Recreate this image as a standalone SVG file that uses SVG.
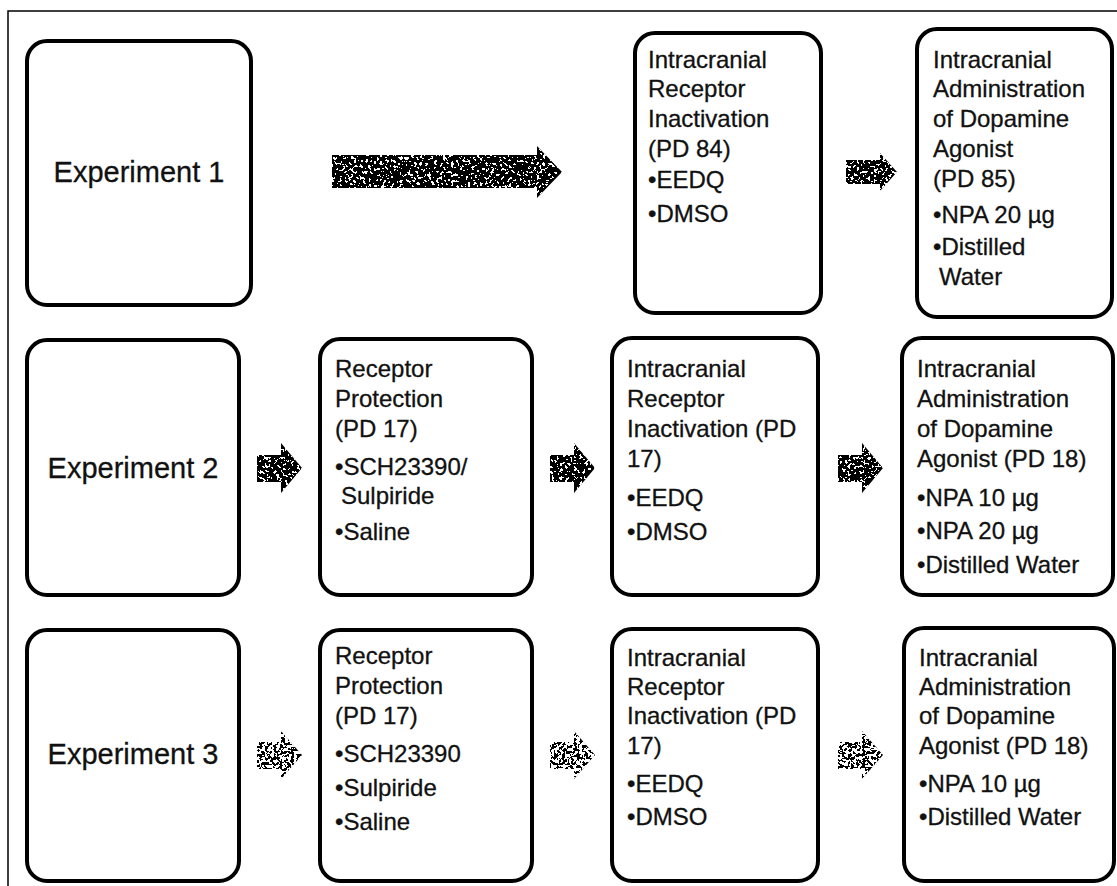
<svg xmlns="http://www.w3.org/2000/svg" width="1117" height="886" viewBox="0 0 1117 886">
<style>
.box{fill:#fff;stroke:#000;stroke-width:4}
.t{font-family:"Liberation Sans",Arial,sans-serif;font-size:24px;fill:#111;stroke:#111;stroke-width:0.3}
.exp{font-family:"Liberation Sans",Arial,sans-serif;font-size:29px;fill:#111;stroke:#111;stroke-width:0.3;text-anchor:middle}
.frame{stroke:#000;stroke-width:1.5;fill:none}
.arr{fill:#000}
</style>
<defs>
<filter id="speckDark" x="0" y="0" width="1" height="1">
<feTurbulence type="fractalNoise" baseFrequency="0.35" numOctaves="2" seed="7" result="n"/>
<feColorMatrix in="n" type="matrix" values="0 0 0 0 1  0 0 0 0 1  0 0 0 0 1  1 0 0 0 0" result="a"/>
<feComponentTransfer in="a" result="w"><feFuncA type="discrete" tableValues="0 0 0 1 1"/></feComponentTransfer>
<feComposite in="w" in2="SourceAlpha" operator="in" result="wc"/>
<feMerge><feMergeNode in="SourceGraphic"/><feMergeNode in="wc"/></feMerge>
</filter>
<filter id="speckLight" x="0" y="0" width="1" height="1">
<feTurbulence type="fractalNoise" baseFrequency="0.35" numOctaves="2" seed="11" result="n"/>
<feColorMatrix in="n" type="matrix" values="0 0 0 0 1  0 0 0 0 1  0 0 0 0 1  1 0 0 0 0" result="a"/>
<feComponentTransfer in="a" result="w"><feFuncA type="discrete" tableValues="0 0 1 1"/></feComponentTransfer>
<feComposite in="w" in2="SourceAlpha" operator="in" result="wc"/>
<feMerge><feMergeNode in="SourceGraphic"/><feMergeNode in="wc"/></feMerge>
</filter>
</defs>
<rect width="1117" height="886" fill="#fff"/>
<path class="frame" d="M8 886 V11 H1117"/>

<g id="connectors">
<path class="arr" filter="url(#speckDark)" d="M332 155 H537 V146 L562 172 L537 198 V188 H332 Z"/>
<path class="arr" filter="url(#speckDark)" d="M846 160 H880 V153 L897 172 L880 191 V184 H846 Z"/>
<path class="arr" filter="url(#speckDark)" d="M257 455 H281 V443 L302 468 L281 493 V482 H257 Z"/>
<path class="arr" filter="url(#speckDark)" d="M550 455 H574 V443 L595 468 L574 493 V482 H550 Z"/>
<path class="arr" filter="url(#speckDark)" d="M838 455 H862 V443 L883 468 L862 493 V482 H838 Z"/>
<path class="arr" filter="url(#speckLight)" d="M257 742 H281 V731 L302 755 L281 779 V769 H257 Z"/>
<path class="arr" filter="url(#speckLight)" d="M550 742 H574 V731 L595 755 L574 779 V769 H550 Z"/>
<path class="arr" filter="url(#speckLight)" d="M838 742 H862 V731 L883 755 L862 779 V769 H838 Z"/>
</g>

<g id="exp1"><rect class="box" x="27" y="41" width="224" height="264" rx="20"/>
<text class="exp" x="139" y="182">Experiment 1</text></g>
<g id="exp1-inactivation"><rect class="box" x="635" y="33" width="186" height="280" rx="20"/>
<text class="t" x="648" y="68">Intracranial</text>
<text class="t" x="648" y="97">Receptor</text>
<text class="t" x="648" y="127">Inactivation</text>
<text class="t" x="648" y="157">(PD 84)</text>
<text class="t" x="648" y="188">•EEDQ</text>
<text class="t" x="648" y="222">•DMSO</text></g>
<g id="exp1-agonist"><rect class="box" x="917" y="29" width="195" height="288" rx="20"/>
<text class="t" x="933" y="68">Intracranial</text>
<text class="t" x="933" y="97">Administration</text>
<text class="t" x="933" y="127">of Dopamine</text>
<text class="t" x="933" y="157">Agonist</text>
<text class="t" x="933" y="187">(PD 85)</text>
<text class="t" x="933" y="223">•NPA 20 µg</text>
<text class="t" x="933" y="255">•Distilled</text>
<text class="t" x="939" y="285">Water</text></g>

<g id="exp2"><rect class="box" x="27" y="340" width="212" height="255" rx="20"/>
<text class="exp" x="133" y="478">Experiment 2</text></g>
<g id="exp2-protection"><rect class="box" x="320" y="339" width="212" height="256" rx="20"/>
<text class="t" x="335" y="377">Receptor</text>
<text class="t" x="335" y="407">Protection</text>
<text class="t" x="335" y="437">(PD 17)</text>
<text class="t" x="335" y="475">•SCH23390/</text>
<text class="t" x="341" y="504">Sulpiride</text>
<text class="t" x="335" y="540">•Saline</text></g>
<g id="exp2-inactivation"><rect class="box" x="612" y="338" width="206" height="257" rx="20"/>
<text class="t" x="627" y="377">Intracranial</text>
<text class="t" x="627" y="407">Receptor</text>
<text class="t" x="627" y="437">Inactivation (PD</text>
<text class="t" x="627" y="467">17)</text>
<text class="t" x="627" y="506">•EEDQ</text>
<text class="t" x="627" y="540">•DMSO</text></g>
<g id="exp2-agonist"><rect class="box" x="902" y="338" width="211" height="257" rx="20"/>
<text class="t" x="917" y="377">Intracranial</text>
<text class="t" x="917" y="407">Administration</text>
<text class="t" x="917" y="437">of Dopamine</text>
<text class="t" x="917" y="467">Agonist (PD 18)</text>
<text class="t" x="917" y="506">•NPA 10 µg</text>
<text class="t" x="917" y="539">•NPA 20 µg</text>
<text class="t" x="917" y="573">•Distilled Water</text></g>

<g id="exp3"><rect class="box" x="27" y="630" width="212" height="251" rx="20"/>
<text class="exp" x="133" y="764">Experiment 3</text></g>
<g id="exp3-protection"><rect class="box" x="320" y="630" width="212" height="251" rx="20"/>
<text class="t" x="335" y="664">Receptor</text>
<text class="t" x="335" y="694">Protection</text>
<text class="t" x="335" y="724">(PD 17)</text>
<text class="t" x="335" y="762">•SCH23390</text>
<text class="t" x="335" y="796">•Sulpiride</text>
<text class="t" x="335" y="830">•Saline</text></g>
<g id="exp3-inactivation"><rect class="box" x="612" y="629" width="206" height="252" rx="20"/>
<text class="t" x="627" y="666">Intracranial</text>
<text class="t" x="627" y="695">Receptor</text>
<text class="t" x="627" y="724">Inactivation (PD</text>
<text class="t" x="627" y="754">17)</text>
<text class="t" x="627" y="792">•EEDQ</text>
<text class="t" x="627" y="825">•DMSO</text></g>
<g id="exp3-agonist"><rect class="box" x="904" y="628" width="210" height="253" rx="20"/>
<text class="t" x="919" y="666">Intracranial</text>
<text class="t" x="919" y="695">Administration</text>
<text class="t" x="919" y="724">of Dopamine</text>
<text class="t" x="919" y="754">Agonist (PD 18)</text>
<text class="t" x="919" y="792">•NPA 10 µg</text>
<text class="t" x="919" y="825">•Distilled Water</text></g>
</svg>
